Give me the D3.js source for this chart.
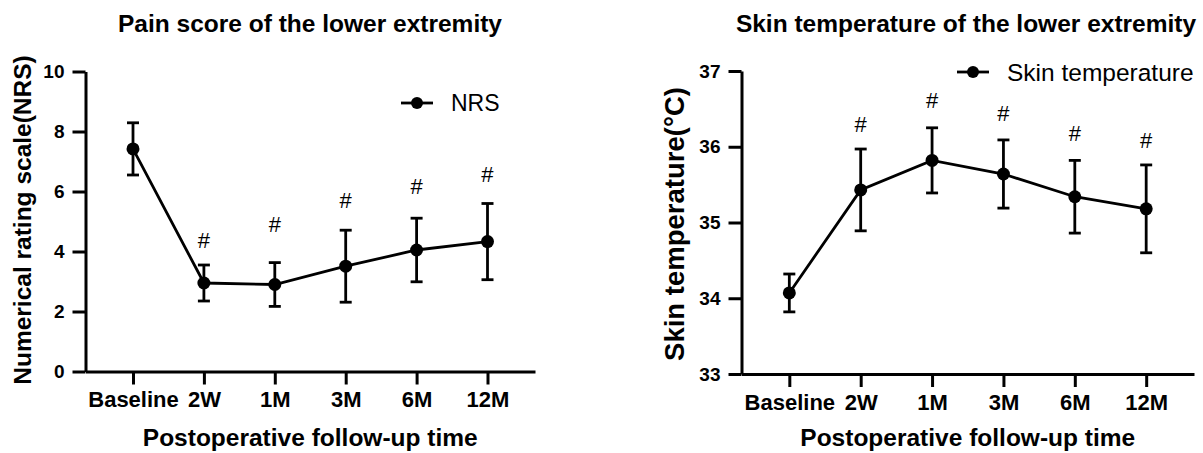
<!DOCTYPE html>
<html>
<head>
<meta charset="utf-8">
<script src="https://cdn.jsdelivr.net/npm/d3@7"></script>
<style>
  body { margin: 0; background: #fff; }
  svg { display: block; font-family: "Liberation Sans", Arial, sans-serif; }
</style>
</head>
<body>
<svg width="1203" height="453"></svg>
<script>
// follow-up time points (shared by both panels)
var timepoints = ["Baseline", "2W", "1M", "3M", "6M", "12M"];

// pain score (NRS): mean and SD
var nrsMean = [7.42, 2.95, 2.9, 3.51, 4.05, 4.33];
var nrsSD   = [0.87, 0.6, 0.73, 1.2, 1.06, 1.27];
var nrsHash = [null, 4.38, 4.92, 5.72, 6.18, 6.58];   // height of "#" marks
var nrsTicks = [0, 2, 4, 6, 8, 10];

// skin temperature: mean and SD
var tempMean = [34.07, 35.43, 35.82, 35.64, 35.34, 35.18];
var tempSD   = [0.25, 0.54, 0.43, 0.45, 0.48, 0.58];
var tempHash = [null, 36.30, 36.62, 36.45, 36.18, 36.09];
var tempTicks = [33, 34, 35, 36, 37];

var svg = d3.select("svg");

function panel(o) {
    var g = svg.append("g");

    var x = d3.scalePoint()
        .domain(timepoints)
        .range([o.left, o.right])
        .padding(0.67);

    var y = d3.scaleLinear()
        .domain(o.domain)
        .range([o.bottom, o.top]);

    // axes
    var ax = g.append("g")
        .attr("transform", "translate(0," + o.bottom + ")")
        .call(d3.axisBottom(x).tickSize(13).tickSizeOuter(0).tickPadding(7));
    ax.selectAll("text")
        .attr("font-size", 22)
        .attr("font-weight", "bold")
        .attr("font-family", "Liberation Sans, Arial, sans-serif")
        .attr("fill", "#000");

    var ay = g.append("g")
        .attr("transform", "translate(" + o.left + ",0)")
        .call(d3.axisLeft(y).tickValues(o.ticks).tickFormat(d3.format("d"))
            .tickSize(13).tickSizeOuter(0).tickPadding(8));
    ay.selectAll("text")
        .attr("font-size", 19)
        .attr("font-weight", "bold")
        .attr("font-family", "Liberation Sans, Arial, sans-serif")
        .attr("fill", "#000");

    g.selectAll(".domain, .tick line")
        .attr("stroke", "#000")
        .attr("stroke-width", 3);

    var pts = timepoints.map(function(t, i) {
        return {t: t, m: o.mean[i], sd: o.sd[i], h: o.hash[i]};
    });

    // error bars
    var eb = g.append("g").attr("stroke", "#000").attr("stroke-width", 2.8);
    eb.selectAll(".v").data(pts).enter().append("line")
        .attr("x1", function(d) { return x(d.t); })
        .attr("x2", function(d) { return x(d.t); })
        .attr("y1", function(d) { return y(d.m - d.sd); })
        .attr("y2", function(d) { return y(d.m + d.sd); });
    [-1, 1].forEach(function(s) {
        eb.selectAll(".c" + s).data(pts).enter().append("line")
            .attr("x1", function(d) { return x(d.t) - 6; })
            .attr("x2", function(d) { return x(d.t) + 6; })
            .attr("y1", function(d) { return y(d.m + s * d.sd); })
            .attr("y2", function(d) { return y(d.m + s * d.sd); });
    });

    // mean line + markers
    g.append("path")
        .datum(pts)
        .attr("fill", "none")
        .attr("stroke", "#000")
        .attr("stroke-width", 2.8)
        .attr("d", d3.line()
            .x(function(d) { return x(d.t); })
            .y(function(d) { return y(d.m); }));

    g.selectAll(".dot").data(pts).enter().append("circle")
        .attr("cx", function(d) { return x(d.t); })
        .attr("cy", function(d) { return y(d.m); })
        .attr("r", 6.5)
        .attr("fill", "#000");

    // significance marks
    g.selectAll(".hash").data(pts.filter(function(d) { return d.h != null; }))
        .enter().append("text")
        .attr("x", function(d) { return x(d.t); })
        .attr("y", function(d) { return y(d.h); })
        .attr("dy", "0.36em")
        .attr("text-anchor", "middle")
        .attr("font-size", 22)
        .text("#");

    // titles
    g.append("text")
        .attr("x", o.titleX)
        .attr("y", 32)
        .attr("text-anchor", "middle")
        .attr("font-size", 24.5)
        .attr("font-weight", "bold")
        .text(o.title);

    g.append("text")
        .attr("x", (o.left + o.right) / 2)
        .attr("y", 446)
        .attr("text-anchor", "middle")
        .attr("font-size", 24.5)
        .attr("font-weight", "bold")
        .text("Postoperative follow-up time");

    g.append("text")
        .attr("transform", "translate(" + o.yTitleX + "," + o.yTitleY + ") rotate(-90)")
        .attr("text-anchor", "middle")
        .attr("font-size", o.yTitleSize)
        .attr("font-weight", "bold")
        .text(o.yTitle);

    // legend
    var lg = g.append("g").attr("transform", "translate(" + o.legX + "," + o.legY + ")");
    lg.append("line").attr("x1", -16).attr("x2", 16)
        .attr("stroke", "#000").attr("stroke-width", 2.8);
    lg.append("circle").attr("r", 6).attr("fill", "#000");
    lg.append("text")
        .attr("x", 34)
        .attr("dy", "0.35em")
        .attr("font-size", o.legSize)
        .text(o.legend);
}

panel({
    left: 85.5, right: 535, top: 71.5, bottom: 371.5,
    domain: [0, 10], ticks: nrsTicks,
    mean: nrsMean, sd: nrsSD, hash: nrsHash,
    title: "Pain score of the lower extremity", titleX: 310,
    yTitle: "Numerical rating scale(NRS)", yTitleX: 31, yTitleY: 220, yTitleSize: 24.5,
    legend: "NRS", legX: 417, legY: 103, legSize: 23
});

panel({
    left: 741.5, right: 1194, top: 71, bottom: 374,
    domain: [33, 37], ticks: tempTicks,
    mean: tempMean, sd: tempSD, hash: tempHash,
    title: "Skin temperature of the lower extremity", titleX: 966,
    yTitle: "Skin temperature(°C)", yTitleX: 684, yTitleY: 224, yTitleSize: 27.5,
    legend: "Skin temperature", legX: 973, legY: 72, legSize: 24.5
});
</script>
</body>
</html>
